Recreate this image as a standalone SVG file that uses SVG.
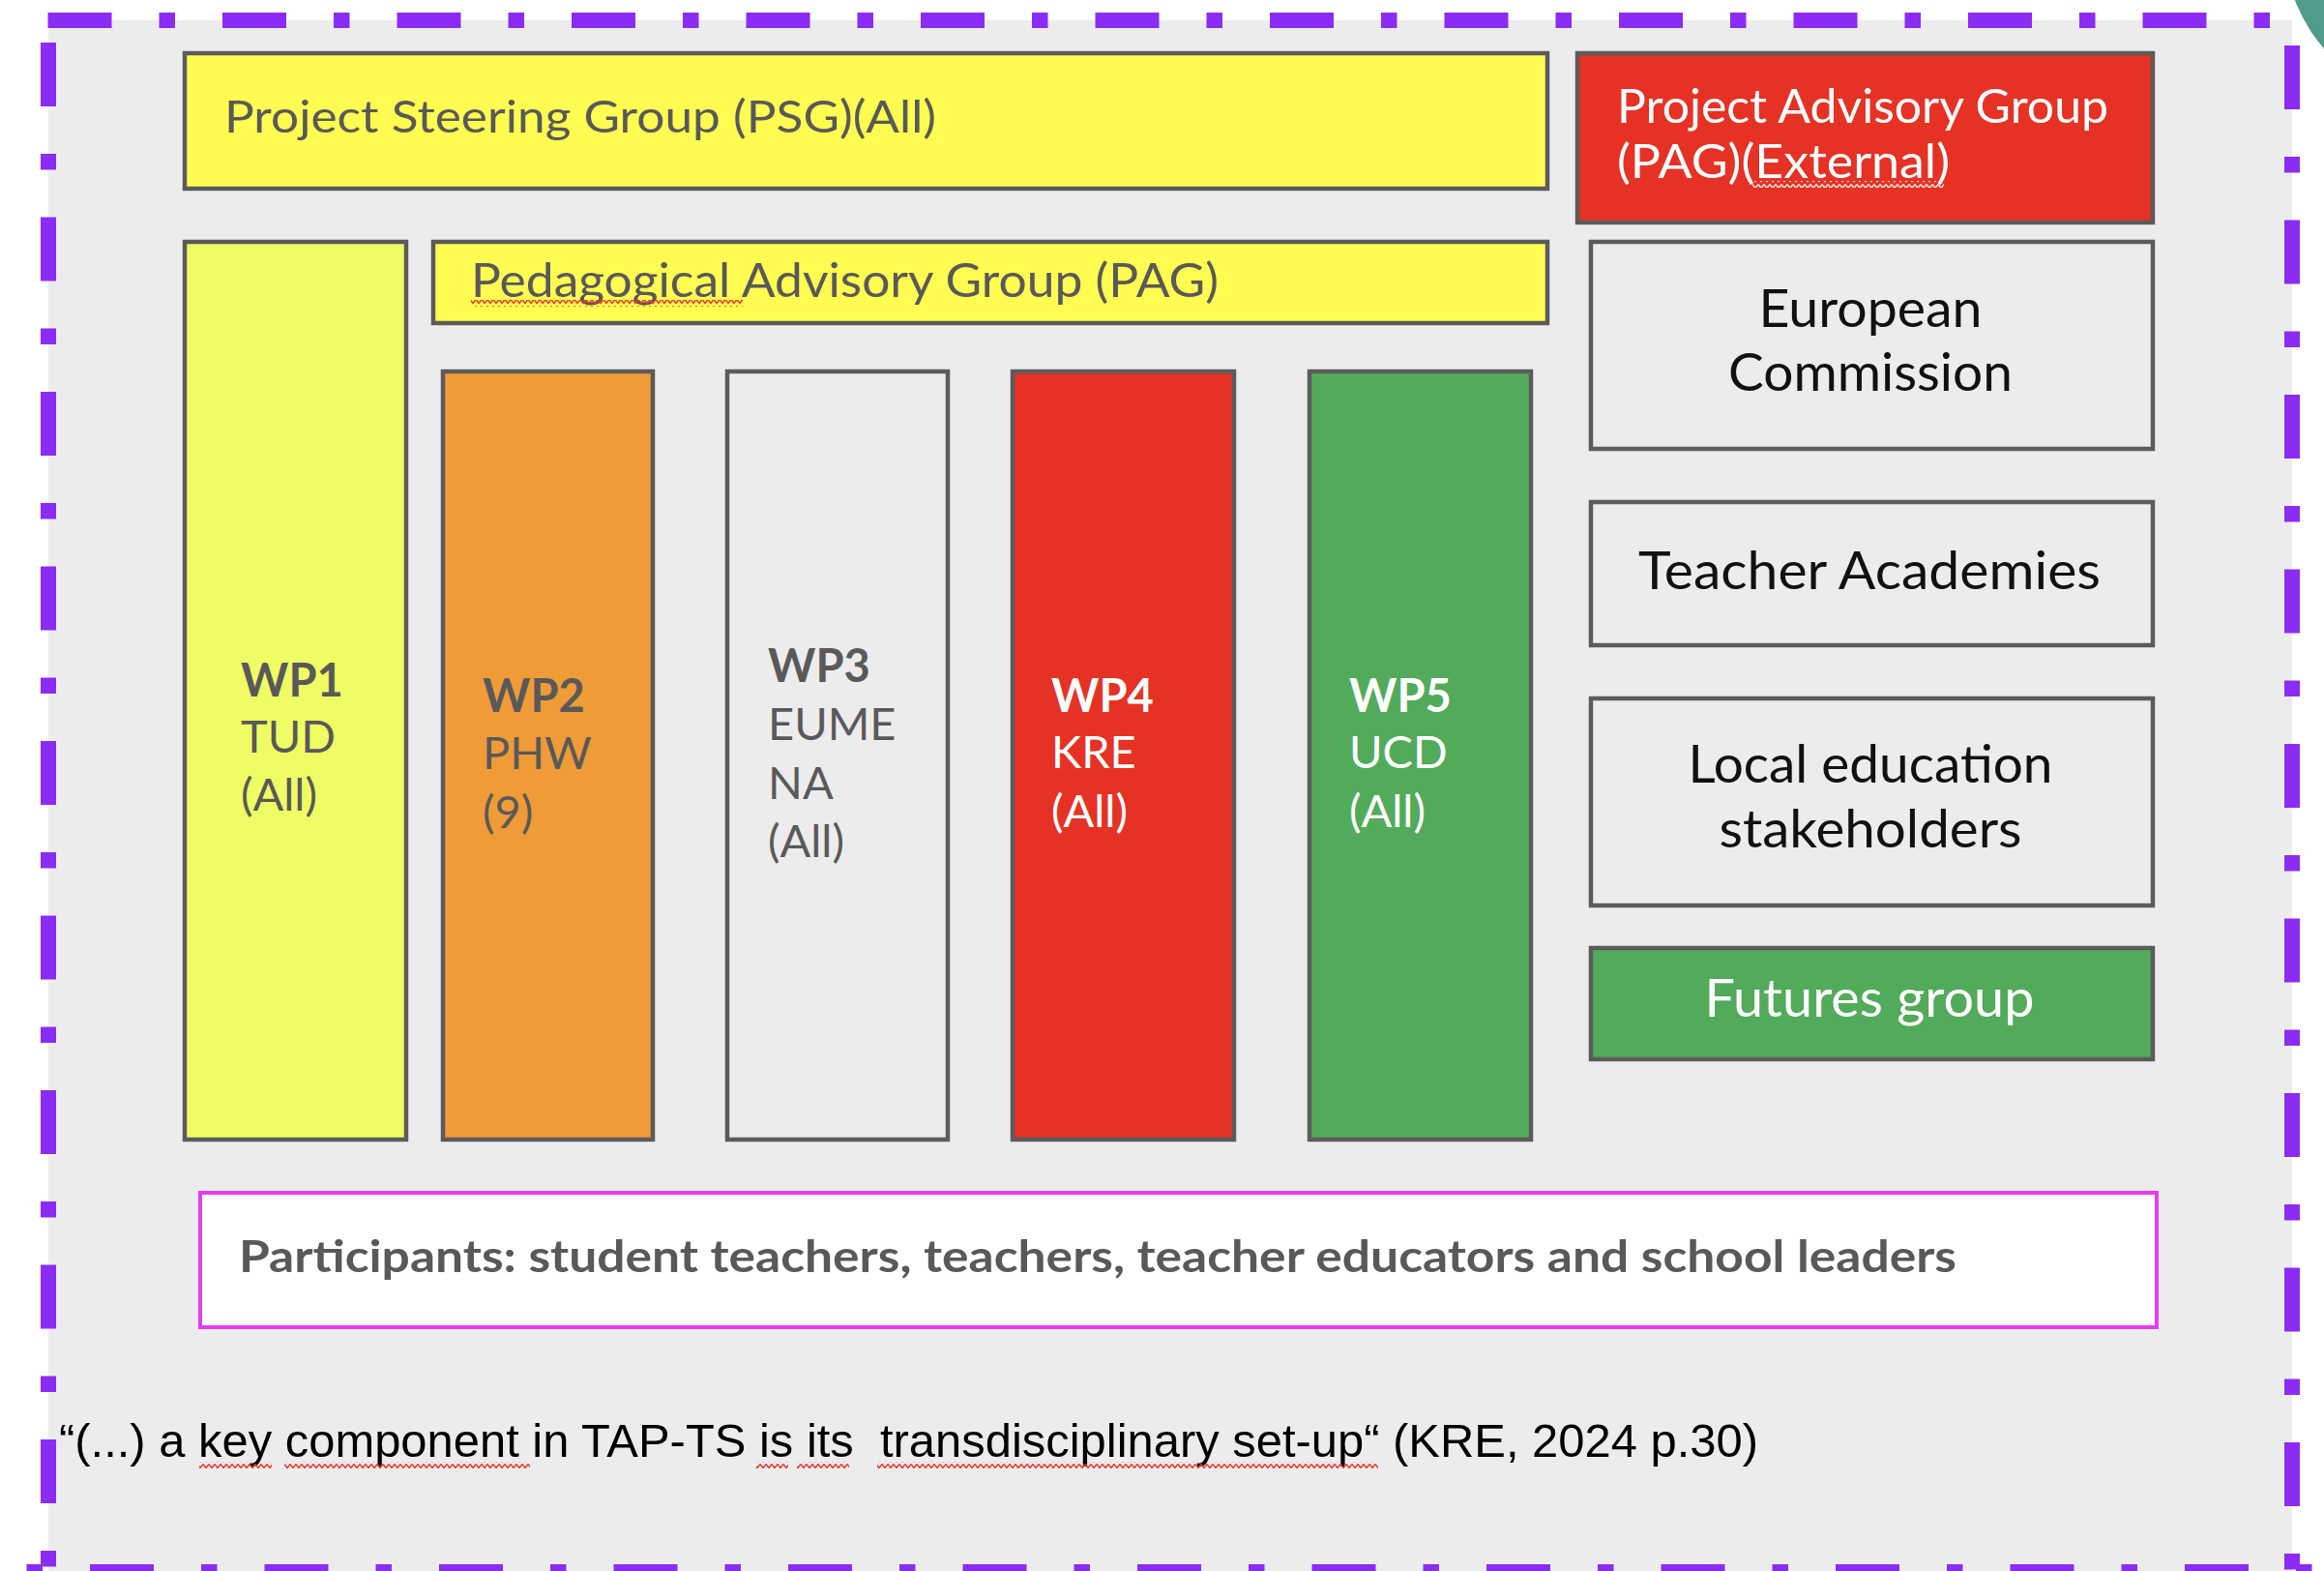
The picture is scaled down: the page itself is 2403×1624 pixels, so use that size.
<svg xmlns="http://www.w3.org/2000/svg" width="2403" height="1624" viewBox="0 0 2403 1624">
  <defs>
    <style>
      .box { stroke: #5b5b5b; stroke-width: 4.5; }
      .lbl { font-family: Lato, "Open Sans", "Liberation Sans", sans-serif; }
      .dk { fill: #595959; }
      .bk { fill: #111111; }
      .wt { fill: #ffffff; }
      .wp { font-size: 47px; }
      .side { font-size: 54px; text-anchor: middle; }
      .frame { fill: none; stroke: #8b2cf5; stroke-width: 16; stroke-dasharray: 66 49 16.5 49; }
    </style>
    <pattern id="sqRed" width="6" height="7" patternUnits="userSpaceOnUse">
      <path d="M0,1.5 L3,5.5 L6,1.5" fill="none" stroke="#e5392c" stroke-width="1.4"/>
    </pattern>
    <pattern id="sqWhite" width="6" height="7" patternUnits="userSpaceOnUse">
      <path d="M0,1.5 L3,5.5 L6,1.5" fill="none" stroke="#f2e6e6" stroke-width="1.4"/>
    </pattern>
  </defs>

  <rect x="0" y="0" width="2403" height="1624" fill="#ffffff"/>
  <circle cx="2528" cy="-59" r="166" fill="#4e9c89"/>
  <rect x="50" y="21" width="2320" height="1610" fill="#ececec"/>

  <g id="frame">
    <line class="frame" x1="49.5" y1="21" x2="2385" y2="21"/>
    <line class="frame" x1="50" y1="44" x2="50" y2="1640"/>
    <line class="frame" x1="2370" y1="47" x2="2370" y2="1640"/>
    <line class="frame" x1="-87.5" y1="1625" x2="2403" y2="1625"/>
  </g>

  <g id="connectors"/>

  <g id="psg">
    <rect class="box" x="191" y="55" width="1409" height="140" fill="#fffb50"/>
    <text class="lbl dk" x="232" y="137" font-size="47" textLength="736" lengthAdjust="spacingAndGlyphs">Project Steering Group (PSG)(All)</text>
  </g>

  <g id="pag-external">
    <rect class="box" x="1631" y="55" width="595" height="175" fill="#e53224"/>
    <text class="lbl wt" x="1672" y="127" font-size="48" textLength="508" lengthAdjust="spacingAndGlyphs">Project Advisory Group</text>
    <text class="lbl wt" x="1672" y="184" font-size="48" textLength="344" lengthAdjust="spacingAndGlyphs">(PAG)(External)</text>
    <rect x="1812" y="187" width="198" height="7" fill="url(#sqWhite)"/>
  </g>

  <g id="pag-pedagogical">
    <rect class="box" x="448" y="250" width="1152" height="84" fill="#fffb50"/>
    <text class="lbl dk" x="487" y="307" font-size="48" textLength="773" lengthAdjust="spacingAndGlyphs">Pedagogical Advisory Group (PAG)</text>
    <rect x="487" y="310" width="281" height="7" fill="url(#sqRed)"/>
  </g>

  <g id="wp1">
    <rect class="box" x="191" y="250" width="229" height="928" fill="#effc63"/>
    <text class="lbl dk wp" x="249" y="720" font-weight="bold">WP1</text>
    <text class="lbl dk wp" x="249" y="778">TUD</text>
    <text class="lbl dk wp" x="249" y="838">(All)</text>
  </g>

  <g id="wp2">
    <rect class="box" x="458" y="384" width="217" height="794" fill="#ef9b38"/>
    <text class="lbl dk wp" x="499" y="736" font-weight="bold">WP2</text>
    <text class="lbl dk wp" x="499" y="795">PHW</text>
    <text class="lbl dk wp" x="499" y="856">(9)</text>
  </g>

  <g id="wp3">
    <rect class="box" x="752" y="384" width="228" height="794" fill="#ececec"/>
    <text class="lbl dk wp" x="794" y="705" font-weight="bold">WP3</text>
    <text class="lbl dk wp" x="794" y="765">EUME</text>
    <text class="lbl dk wp" x="794" y="826">NA</text>
    <text class="lbl dk wp" x="794" y="886">(All)</text>
  </g>

  <g id="wp4">
    <rect class="box" x="1047" y="384" width="229" height="794" fill="#e53224"/>
    <text class="lbl wt wp" x="1087" y="736" font-weight="bold">WP4</text>
    <text class="lbl wt wp" x="1087" y="794">KRE</text>
    <text class="lbl wt wp" x="1087" y="855">(All)</text>
  </g>

  <g id="wp5">
    <rect class="box" x="1354" y="384" width="229" height="794" fill="#52ab5a"/>
    <text class="lbl wt wp" x="1395" y="736" font-weight="bold">WP5</text>
    <text class="lbl wt wp" x="1395" y="794">UCD</text>
    <text class="lbl wt wp" x="1395" y="855">(All)</text>
  </g>

  <g id="european-commission">
    <rect class="box" x="1645" y="250" width="581" height="214" fill="#ececec"/>
    <text class="lbl bk side" x="1934" y="338" textLength="231" lengthAdjust="spacingAndGlyphs">European</text>
    <text class="lbl bk side" x="1934" y="404" textLength="294" lengthAdjust="spacingAndGlyphs">Commission</text>
  </g>

  <g id="teacher-academies">
    <rect class="box" x="1645" y="519" width="581" height="148" fill="#ececec"/>
    <text class="lbl bk side" x="1933" y="609" textLength="478" lengthAdjust="spacingAndGlyphs">Teacher Academies</text>
  </g>

  <g id="local-education">
    <rect class="box" x="1645" y="722" width="581" height="214" fill="#ececec"/>
    <text class="lbl bk side" x="1934" y="809" textLength="377" lengthAdjust="spacingAndGlyphs">Local education</text>
    <text class="lbl bk side" x="1934" y="876" textLength="313" lengthAdjust="spacingAndGlyphs">stakeholders</text>
  </g>

  <g id="futures-group">
    <rect class="box" x="1645" y="980" width="581" height="115" fill="#52ab5a"/>
    <text class="lbl wt side" x="1933" y="1051" textLength="341" lengthAdjust="spacingAndGlyphs">Futures group</text>
  </g>

  <g id="participants">
    <rect x="207" y="1233" width="2023" height="139" fill="#ffffff" stroke="#e83cf0" stroke-width="4"/>
    <text class="lbl dk" x="247" y="1315" font-size="45" font-weight="bold" textLength="1776" lengthAdjust="spacingAndGlyphs">Participants: student teachers, teachers, teacher educators and school leaders</text>
  </g>

  <g id="quote">
    <text x="61" y="1506" font-family="'Liberation Sans Narrow', 'Liberation Sans', sans-serif" font-size="48" fill="#000000" textLength="1757" lengthAdjust="spacingAndGlyphs" xml:space="preserve">“(...) a key component in TAP-TS is its  transdisciplinary set-up“ (KRE, 2024 p.30)</text>
    <rect x="206" y="1511" width="75" height="7" fill="url(#sqRed)"/>
    <rect x="294" y="1511" width="254" height="7" fill="url(#sqRed)"/>
    <rect x="782" y="1511" width="33" height="7" fill="url(#sqRed)"/>
    <rect x="824" y="1511" width="54" height="7" fill="url(#sqRed)"/>
    <rect x="907" y="1511" width="518" height="7" fill="url(#sqRed)"/>
  </g>
</svg>
